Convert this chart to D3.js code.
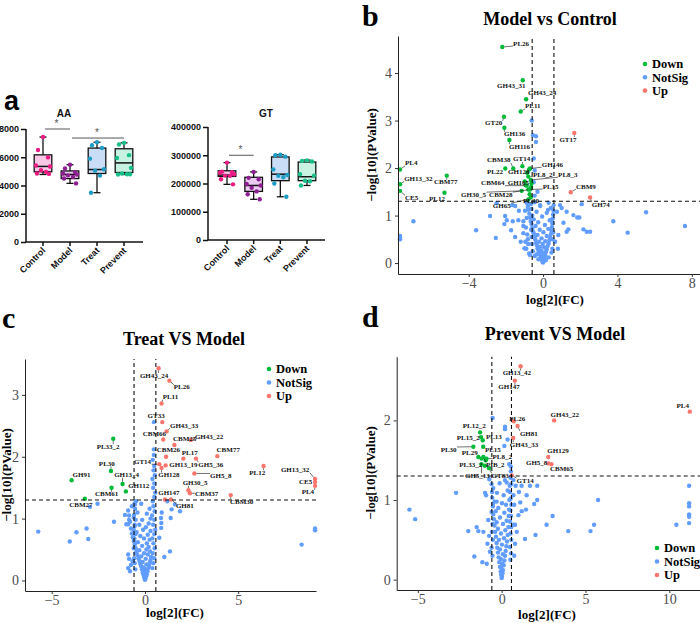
<!DOCTYPE html>
<html><head><meta charset="utf-8">
<script src="https://cdn.jsdelivr.net/npm/d3@7/dist/d3.min.js"></script>
<style>body{margin:0;background:#fff}svg{display:block}</style>
</head><body>
<svg id="fig" width="700" height="623"></svg>
<script>
// ================= DATA =================
// Panel a
const groups = ["Control","Model","Treat","Prevent"];
const aaTicks = [0,2000,4000,6000,8000];
const gtTicks = [0,100000,200000,300000,400000];
// [min, q1, median, q3, max]
const aaBox = [[4780,4970,5350,6170,7430],[4150,4490,4780,5030,5470],[3490,4850,5130,6650,7060],[4780,4920,5600,6600,7020]];
const aaPoints = [[7430,6510,5990,5420,5350,5080,4960,4850,4820],[5470,5200,4950,4850,4780,4720,4600,4500,4150],[7060,6850,6650,5900,5150,5050,4700,3490],[7020,6900,6150,5950,5250,4850,4800,4780,4800]];
const gtBox = [[197000,225000,230000,245000,274000],[144000,172000,193000,222000,241000],[153000,210000,233000,294000,302000],[193000,210000,224000,276000,283000]];
const gtPoints = [[274000,242000,240000,238000,233000,228000,227000,215000,197000],[241000,220000,215000,198000,193000,185000,172000,162000,144000],[302000,300000,295000,250000,230000,227000,222000,200000,153000],[282000,280000,278000,233000,228000,210000,208000,193000]];
const aaSig = [["Control","Model",8000],["Model","Prevent",7360]];
const gtSig = [["Control","Model",300000]];

// Volcano thresholds
const fcThreshold = 0.585, pThreshold = 1.301;
const legendKeys = ["Down","NotSig","Up"];

// Panel b: Model vs Control
const bXTicks = [-4,0,4,8], bYTicks = [0,1,2,3,4];
const bDown = [["PL26",-2.19,4.55],["GH43_31",-1.09,3.85],["GH43_24",-0.91,3.45],["PL11",-1.2,3.19],["GT20",-2.1,3.08],["GH136",-2.08,2.85],["GH116",-1.81,2.59],["CBM38",-1.6,1.99],["GT14",-1.11,2.04],["PL22",-2.03,1.99],["GH128",-0.75,1.97],["CBM64",-0.88,1.63],["GH165",-0.93,1.64],["GH30_5",-1.15,1.52],["CBM28",-0.7,1.55],["GH65",-0.79,1.34],["PL4",-7.69,1.97],["GH13_32",-7.69,1.66],["CE5",-7.69,1.52],["CBM77",-5.18,1.84],["PL12",-5.3,1.48],["PL8_3",-0.66,1.75],["PL8_2",-0.79,1.82],["GH146",-0.7,1.99],["PL15",-0.79,1.55],["PL30",-0.66,1.38],[null,-0.62,1.68],[null,-0.72,1.45],[null,-0.98,1.72],[null,-0.85,1.9],[null,-0.64,1.6]];
const bUp = [["GT17",1.68,2.74],["CBM9",1.49,1.49],["GH74",2.53,1.38]];
const bNot = [[0.0,0.01],[-0.03,0.03],[0.04,0.05],[-0.07,0.07],[0.02,0.09],[-0.1,0.11],[0.08,0.12],[-0.04,0.14],[-0.14,0.16],[0.12,0.17],[-0.18,0.19],[0.03,0.21],[-0.22,0.23],[0.16,0.24],[-0.09,0.26],[-0.26,0.28],[0.2,0.29],[-0.3,0.31],[0.06,0.33],[-0.17,0.34],[0.25,0.36],[-0.34,0.38],[-0.02,0.4],[0.3,0.41],[-0.38,0.43],[-0.22,0.45],[0.12,0.46],[0.34,0.48],[-0.42,0.5],[-0.08,0.52],[0.38,0.54],[-0.46,0.56],[0.2,0.57],[-0.3,0.59],[0.42,0.61],[-0.5,0.63],[0.02,0.65],[-0.55,0.67],[0.45,0.68],[-0.18,0.7],[0.28,0.72],[-0.58,0.74],[0.48,0.76],[-0.4,0.78],[0.1,0.8],[-0.62,0.82],[0.5,0.84],[-0.26,0.86],[-0.66,0.88],[0.36,0.9],[-0.5,0.92],[0.52,0.94],[-0.7,0.96],[-0.05,0.98],[-0.58,1.0],[0.54,1.02],[-0.74,1.04],[0.2,1.06],[-0.35,1.08],[0.56,1.1],[-0.78,1.12],[-0.62,1.14],[0.42,1.16],[-0.82,1.18],[-0.15,1.2],[0.57,1.22],[-0.66,1.24],[-0.86,1.26],[0.3,1.27],[-0.45,1.28],[-0.6,0.4],[-0.62,0.55],[-0.64,0.7],[-0.55,0.25],[-0.45,0.15],[0.5,0.3],[0.45,0.22],[0.52,0.5],[0.55,0.65],[-0.35,0.18],[0.3,0.12],[-0.25,0.08],[0.15,0.06],[-0.9,0.3],[-0.95,0.45],[-0.85,0.6],[-0.92,0.75],[-0.88,0.95],[-0.97,1.1],[-0.8,0.4],[-0.75,0.2],[-0.82,0.5],[-0.61,3.0],[-0.54,2.69],[-0.38,2.67],[-0.38,2.55],[-0.5,2.2],[-0.45,1.95],[-0.5,1.7],[-0.3,1.5],[-0.45,1.42],[-0.16,1.22],[0.27,1.12],[0.47,0.9],[0.91,1.22],[1.0,1.16],[0.75,1.08],[1.27,1.08],[1.63,1.01],[1.84,0.96],[1.95,0.96],[2.08,1.24],[2.17,0.71],[2.35,0.66],[2.53,0.66],[1.36,0.71],[1.27,0.66],[0.82,0.59],[3.78,0.88],[4.55,0.64],[5.54,1.07],[7.63,0.78],[-0.97,0.31],[-1.06,0.63],[-2.85,0.99],[-2.04,0.99],[-1.95,0.9],[-1.63,0.88],[-1.33,0.9],[-1.06,0.88],[-2.08,0.82],[-1.72,0.69],[-1.06,0.78],[-1.5,0.55],[-1.0,0.31],[-0.7,0.17],[-1.65,1.22],[-1.5,1.2],[-2.49,1.26],[-6.97,0.88],[-3.6,0.69],[-2.54,0.53],[-7.69,0.57],[-7.69,0.53],[-7.69,0.5],[0.8,0.3],[0.65,0.45],[1.1,0.85],[-1.2,0.45],[-1.3,1.1]];
const bNotNamed = [];

// Panel c: Treat VS Model
const cXTicks = [-5,0,5], cYTicks = [0,1,2,3];
const cUp = [["GH43_24",0.73,3.43],["PL26",1.31,3.23],["PL11",0.89,2.86],["GT33",0.93,2.56],["GH43_33",1.16,2.41],["CBM66",0.98,2.28],["CBM25",1.58,2.19],["GH43_22",2.46,2.27],["CBM77",3.88,2.01],["PL17",2.06,1.97],["GH13_19",1.11,1.86],["GH5_36",2.74,1.97],["GT14",0.77,1.88],["GH128",0.89,1.82],["GH5_8",2.65,1.73],["PL12",6.36,1.85],["GH13_32",9.12,1.64],["CE5",9.12,1.59],["PL4",9.12,1.53],["GH30_5",2.33,1.46],["CBM37",2.41,1.41],["CBM30",4.6,1.38],["GH147",1.07,1.31],["GH81",1.39,1.31],[null,1.13,2.0]];
const cDown = [["PL33_2",-1.7,2.29],["PL30",-1.82,1.77],["GH91",-3.93,1.62],["GH13_4",-1.2,1.56],["GH112",-1.02,1.44],["CBM61",-1.79,1.5],["CBM27",-3.22,1.32]];
const cNot = [[0,0.01],[0.03,0.03],[-0.04,0.05],[0.06,0.07],[-0.08,0.09],[0.1,0.1],[-0.02,0.12],[-0.12,0.13],[0.14,0.15],[0.02,0.17],[-0.16,0.18],[0.18,0.2],[-0.06,0.21],[-0.2,0.23],[0.22,0.24],[0.08,0.26],[-0.25,0.27],[0.26,0.29],[-0.12,0.3],[-0.3,0.32],[0.3,0.33],[0.04,0.35],[-0.35,0.36],[0.33,0.38],[-0.2,0.39],[-0.4,0.41],[0.15,0.42],[-0.05,0.44],[-0.45,0.46],[0.28,0.47],[-0.3,0.49],[0.08,0.5],[-0.5,0.52],[0.2,0.54],[-0.15,0.56],[-0.55,0.58],[0.1,0.6],[-0.38,0.62],[-0.6,0.64],[0.25,0.66],[-0.05,0.68],[-0.65,0.7],[-0.25,0.72],[0.15,0.74],[-0.7,0.76],[-0.45,0.78],[0.3,0.8],[-0.1,0.82],[-0.75,0.84],[0.05,0.86],[-0.55,0.88],[-0.3,0.9],[0.2,0.92],[-0.8,0.95],[-0.15,0.98],[0.3,1.0],[-0.6,1.02],[-0.85,1.05],[0.1,1.08],[-0.4,1.1],[-0.9,1.13],[0.25,1.16],[-0.7,1.2],[-0.2,1.24],[-0.52,0.18],[-0.55,0.28],[-0.58,0.36],[-0.5,0.44],[-0.6,0.52],[-0.53,0.6],[-0.57,0.68],[-0.5,0.75],[-0.6,0.82],[-0.55,0.9],[-0.5,0.98],[-0.58,1.06],[-0.53,1.16],[-0.56,1.24],[-0.48,1.28],[0.4,0.2],[0.45,0.28],[0.5,0.36],[0.42,0.44],[0.52,0.52],[0.46,0.6],[0.4,0.68],[0.5,0.75],[0.55,0.82],[0.44,0.9],[0.5,0.98],[0.38,1.05],[0.52,1.12],[0.46,1.2],[0.42,1.28],[0.5,1.35],[0.55,1.42],[0.44,1.5],[0.5,1.57],[0.4,1.64],[0.53,1.7],[0.46,1.78],[0.5,1.85],[0.42,1.95],[0.48,2.03],[0.48,2.56],[-5.72,0.79],[-4.03,0.63],[-3.67,0.78],[-3.13,0.84],[-3.04,0.67],[-2.54,1.24],[-2.95,1.19],[-1.66,0.95],[-1.07,1.06],[-1.0,0.91],[-0.9,0.91],[-0.85,0.98],[-0.9,0.2],[-0.66,0.31],[-0.54,1.23],[-0.85,0.35],[-0.75,0.25],[-0.8,0.15],[-0.9,0.42],[0.86,1.01],[0.88,0.93],[0.87,0.85],[0.9,1.1],[1.04,0.38],[1.34,0.47],[1.38,1.01],[1.88,1.12],[0.77,0.69],[1.2,1.28],[1.61,1.23],[1.43,1.15],[9.12,0.81],[9.12,0.84],[8.4,0.58]];
const cNotNamed = [["CBM26",0.48,2.12]];

// Panel d: Prevent VS Model
const dXTicks = [-5,0,5,10], dYTicks = [0,1,2];
const dUp = [["GH13_42",1.13,2.68],["GH147",0.79,2.5],["PL26",0.72,1.99],["GH81",0.95,1.93],["GH43_33",0.69,1.78],["GH43_22",3.13,2.0],["PL4",11.22,2.11],["GH129",2.78,1.54],["GH5_8",2.79,1.46],["CBM65",2.97,1.45],["GT14",0.6,1.31]];
const dDown = [["PL12_2",-1.29,1.85],["PL15_2",-1.23,1.79],["PL13",-1.13,1.75],["PL30",-1.69,1.67],["PL15",-1.1,1.67],["PL29",-1.39,1.54],["PL33_2",-1.0,1.43],["PL8_2",-0.9,1.52],["PIB_2",-1.09,1.54],["GH5_13",-1.2,1.45],["GT83",-0.75,1.4],[null,-0.95,1.5],[null,-1.2,1.52]];
const dNot = [[0,0.02],[0.02,0.04],[-0.03,0.06],[0.05,0.08],[-0.06,0.1],[0.08,0.12],[-0.01,0.14],[-0.1,0.16],[0.12,0.18],[0.03,0.2],[-0.14,0.22],[0.16,0.24],[-0.05,0.26],[-0.18,0.28],[0.2,0.3],[0.07,0.32],[-0.22,0.34],[0.24,0.36],[-0.1,0.38],[-0.26,0.4],[0.28,0.42],[0.02,0.44],[-0.3,0.46],[0.32,0.48],[-0.16,0.5],[0.14,0.52],[-0.34,0.54],[0.36,0.56],[-0.04,0.58],[-0.38,0.6],[0.22,0.62],[-0.22,0.64],[0.4,0.66],[-0.42,0.68],[0.08,0.7],[-0.3,0.72],[0.3,0.74],[-0.46,0.76],[-0.1,0.78],[0.42,0.8],[-0.5,0.82],[0.16,0.84],[-0.35,0.86],[0.44,0.88],[-0.2,0.9],[-0.52,0.92],[0.26,0.94],[0.02,0.96],[-0.42,0.98],[0.46,1.0],[-0.56,1.03],[0.12,1.06],[-0.28,1.09],[0.36,1.12],[-0.5,1.15],[0.48,1.18],[-0.12,1.21],[0.2,1.25],[0.52,0.25],[0.56,0.33],[0.5,0.41],[0.58,0.5],[0.53,0.58],[0.57,0.66],[0.5,0.73],[0.56,0.8],[0.52,0.87],[0.58,0.94],[0.54,1.02],[0.5,1.1],[0.57,1.2],[0.53,1.28],[0.55,1.36],[0.45,1.45],[0.55,1.42],[-0.55,0.3],[-0.6,0.4],[-0.52,0.5],[-0.58,0.6],[-0.55,0.7],[-0.6,0.85],[-0.52,0.95],[-0.57,1.1],[-0.6,1.2],[-5.5,0.88],[-5.16,0.76],[-2.72,1.09],[-1.99,0.61],[-1.49,0.66],[-1.63,0.29],[-1.15,0.22],[-0.89,0.2],[-1.09,0.6],[-0.93,1.06],[-0.99,1.09],[-0.74,1.26],[0.3,1.22],[0.83,1.18],[1.19,1.18],[1.69,1.18],[2.12,1.18],[1.03,1.1],[1.49,1.06],[0.7,1.06],[0.75,0.94],[1.11,0.97],[1.94,0.95],[2.12,1.0],[1.45,0.88],[1.2,0.86],[1.0,0.81],[0.7,0.69],[0.8,0.69],[1.39,0.51],[2.02,0.56],[2.68,0.69],[3.04,0.8],[3.97,0.61],[5.3,0.61],[5.51,0.69],[5.75,1.0],[10.42,0.69],[11.18,1.18],[11.18,0.96],[11.18,0.92],[11.18,0.82],[11.18,0.79],[11.18,0.71],[-1.39,0.61],[-0.3,0.98],[-0.54,2.03],[0.2,1.92],[0.2,1.89],[0.16,1.68],[0.35,1.76],[0.7,1.25],[-0.8,0.75],[-0.85,0.45],[-0.75,0.55],[-0.7,0.35],[0.8,0.45],[0.75,0.3],[0.9,0.6]];
const dNotNamed = [];

// ================= LAYOUT (label placement, data units) =================
const bLabelAt = {PL26:[-1.61,4.63],GH43_31:[-2.47,3.73],GH43_24:[-0.81,3.58],PL11:[-0.97,3.31],GT20:[-3.12,2.95],GH136:[-2.1,2.72],GH116:[-1.83,2.46],CBM38:[-3.01,2.17],GT14:[-1.61,2.19],PL22:[-3.01,1.92],GH128:[-1.88,1.92],CBM64:[-3.33,1.69],GH165:[-1.9,1.69],GH30_5:[-4.41,1.45],CBM28:[-2.9,1.45],GH65:[-2.7,1.22],PL4:[-7.42,2.11],GH13_32:[-7.47,1.78],CE5:[-7.42,1.38],CBM77:[-5.86,1.71],PL12:[-6.13,1.36],PL8_3:[0.81,1.87],PL8_2:[-0.54,1.87],GH146:[-0.07,2.08],PL15:[-0.02,1.62],PL30:[-1.08,1.31],GT17:[0.88,2.61],CBM9:[1.77,1.62],GH74:[2.62,1.24]};
const cLabelAt = {GH43_24:[-0.27,3.32],PL26:[1.55,3.13],PL11:[0.95,2.97],GT33:[0.14,2.67],GH43_33:[1.34,2.51],CBM66:[-0.12,2.37],CBM25:[1.5,2.29],GH43_22:[2.68,2.33],CBM77:[3.84,2.11],PL17:[1.97,2.07],GH13_19:[1.3,1.88],GH5_36:[2.86,1.88],GT14:[-0.59,1.92],GH128:[0.71,1.71],GH5_8:[3.49,1.7],PL12:[5.59,1.75],GH13_32:[7.29,1.79],CE5:[8.26,1.6],PL4:[8.4,1.43],GH30_5:[2.02,1.58],CBM37:[2.68,1.4],CBM30:[4.56,1.28],GH147:[0.71,1.42],GH81:[1.66,1.21],CBM26:[0.63,2.11],PL33_2:[-2.59,2.17],PL30:[-2.47,1.89],GH91:[-3.88,1.72],GH13_4:[-1.65,1.71],GH112:[-0.9,1.53],CBM61:[-2.68,1.4],CBM27:[-4.06,1.23]};
const dLabelAt = {GH13_42:[0.06,2.6],GH147:[-0.2,2.42],PL26:[0.45,2.02],GH81:[1.09,1.84],GH43_33:[0.49,1.7],GH43_22:[2.92,2.07],PL4:[10.43,2.19],GH129:[2.72,1.62],GH5_8:[1.45,1.47],CBM65:[2.88,1.39],GT14:[0.89,1.25],PL12_2:[-2.32,1.93],PL15_2:[-2.68,1.79],PL13:[-0.94,1.8],PL30:[-3.64,1.64],PL15:[-1.0,1.64],PL29:[-2.38,1.6],PL33_2:[-2.53,1.44],PL8_2:[-0.54,1.55],PIB_2:[-0.94,1.45],GH5_13:[-2.19,1.31],GT83:[-0.6,1.31]};

// ================= DRAW =================
const svg = d3.select("#fig");
svg.append("rect").attr("width",700).attr("height",623).attr("fill","#fff");
const SERIF = "'Liberation Serif','Times New Roman',Times,serif";
const SANS = "'Liberation Sans',Arial,Helvetica,sans-serif";
const COL = {Down:"#00BA38", NotSig:"#619CFF", Up:"#F8766D"};
const boxFill = ["#f9c8e7","#eccbf2","#c9ddf6","#c8f3e2"];
const dotCol = ["#ec1c84","#8e1f92","#1d9cc6","#18bf8b"];
const jit = [0,-5,5,-7,7,-2,3,-6,6];

function boxPanel(c){
  const g = svg.append("g").attr("font-family",SANS).attr("font-weight","bold");
  const x = d3.scalePoint().domain(groups).range(c.xr);
  const y = d3.scaleLinear().domain([c.ticks[0], c.ticks[c.ticks.length-1]]).range(c.yr);
  const hw = 8.8, cap = 3.5;
  c.box.forEach((b,i)=>{
    const cx = x(groups[i]);
    g.append("line").attr("x1",cx).attr("x2",cx).attr("y1",y(b[0])).attr("y2",y(b[4])).attr("stroke","#111").attr("stroke-width",1.3);
    [b[0],b[4]].forEach(v=>g.append("line").attr("x1",cx-cap).attr("x2",cx+cap).attr("y1",y(v)).attr("y2",y(v)).attr("stroke","#111").attr("stroke-width",1.3));
    g.append("rect").attr("x",cx-hw).attr("width",2*hw).attr("y",y(b[3])).attr("height",y(b[1])-y(b[3]))
      .attr("fill",boxFill[i]).attr("stroke","#111").attr("stroke-width",1.3);
    g.append("line").attr("x1",cx-hw).attr("x2",cx+hw).attr("y1",y(b[2])).attr("y2",y(b[2])).attr("stroke","#111").attr("stroke-width",1.5);
  });
  c.pts.forEach((arr,i)=>{
    const cx = x(groups[i]);
    g.selectAll(null).data(arr).join("circle").attr("cx",(d,j)=>cx+jit[j%jit.length]).attr("cy",d=>y(d)).attr("r",2.2).attr("fill",dotCol[i]);
  });
  const x0 = c.axX, yb = c.yr[0];
  g.append("line").attr("x1",x0).attr("x2",x0).attr("y1",yb).attr("y2",c.yr[1]).attr("stroke","#111").attr("stroke-width",1.5);
  g.append("line").attr("x1",x0).attr("x2",c.axRight).attr("y1",yb).attr("y2",yb).attr("stroke","#111").attr("stroke-width",1.5);
  const ya = g.append("g").attr("transform",`translate(${x0},0)`)
    .call(d3.axisLeft(y).tickValues(c.ticks).tickSize(5).tickPadding(2).tickSizeOuter(0).tickFormat(d3.format("d")));
  ya.select(".domain").remove();
  ya.selectAll("line").attr("stroke","#111").attr("stroke-width",1.5);
  ya.selectAll("text").attr("font-family",SANS).attr("font-weight","bold").attr("font-size",9).attr("fill","#111");
  groups.forEach(gn=>{
    const cx = x(gn);
    g.append("line").attr("x1",cx).attr("x2",cx).attr("y1",yb).attr("y2",yb+4).attr("stroke","#111").attr("stroke-width",1.5);
    g.append("text").attr("transform",`translate(${cx+3},${yb+9}) rotate(-45)`).attr("text-anchor","end")
      .attr("font-size",9).attr("fill","#111").text(gn);
  });
  c.sig.forEach(([a,b,v])=>{
    g.append("line").attr("x1",x(a)+2).attr("x2",x(b)).attr("y1",y(v)).attr("y2",y(v)).attr("stroke","#555").attr("stroke-width",1);
    g.append("text").attr("x",(x(a)+x(b))/2).attr("y",y(v)-2).attr("text-anchor","middle").attr("font-size",10).attr("font-weight","normal").attr("fill","#555").text("*");
  });
  g.append("text").attr("x",c.titleX).attr("y",c.titleY).attr("text-anchor","middle").attr("font-size",10).attr("fill","#111").text(c.title);
}

svg.append("text").attr("x",4).attr("y",110).attr("font-family",SANS).attr("font-weight","bold").attr("font-size",27).text("a");
boxPanel({title:"AA", titleX:64, titleY:117, ticks:aaTicks, box:aaBox, pts:aaPoints, sig:aaSig, xr:[43,124], yr:[242,129], axX:26, axRight:143});
boxPanel({title:"GT", titleX:266, titleY:117, ticks:gtTicks, box:gtBox, pts:gtPoints, sig:gtSig, xr:[227,307], yr:[240,127], axX:208, axRight:325});

function volcano(c){
  const g = svg.append("g");
  const x = d3.scaleLinear().domain(c.xDomain).range(c.xRange);
  const y = d3.scaleLinear().domain(c.yDomain).range(c.yRange);
  const [x0,x1] = c.xRange, [yB,yT] = c.yRange;
  const pts = g.append("g");
  pts.selectAll(null).data(c.not.concat(c.notNamed.map(d=>[d[1],d[2]]))).join("circle")
    .attr("cx",d=>x(d[0])).attr("cy",d=>y(d[1])).attr("r",2.2).attr("fill",COL.NotSig);
  pts.selectAll(null).data(c.down).join("circle").attr("cx",d=>x(d[1])).attr("cy",d=>y(d[2])).attr("r",2.2).attr("fill",COL.Down);
  pts.selectAll(null).data(c.up).join("circle").attr("cx",d=>x(d[1])).attr("cy",d=>y(d[2])).attr("r",2.2).attr("fill",COL.Up);
  g.selectAll(null).data([-fcThreshold, fcThreshold]).join("line")
    .attr("x1",d=>x(d)).attr("x2",d=>x(d)).attr("y1",yB).attr("y2",yT)
    .attr("stroke","#111").attr("stroke-width",1.1).attr("stroke-dasharray","4,3");
  g.append("line").attr("x1",x0).attr("x2",x1).attr("y1",y(pThreshold)).attr("y2",y(pThreshold))
    .attr("stroke","#111").attr("stroke-width",1.1).attr("stroke-dasharray","4,3");
  const seg = g.append("g"), lab = g.append("g").attr("font-family",SERIF).attr("font-size",7).attr("font-weight","bold");
  c.down.concat(c.up, c.notNamed).forEach(([name,vx,vy])=>{
    if(!name || !c.labelAt[name]) return;
    const p = c.labelAt[name];
    const t = lab.append("text").attr("x",x(p[0])).attr("y",y(p[1])).attr("dy","0.35em").attr("fill","#111").text(name);
    const bb = t.node().getBBox();
    const px = x(vx), py = y(vy);
    const qx = Math.max(bb.x, Math.min(px, bb.x+bb.width));
    const qy = Math.max(bb.y+1.5, Math.min(py, bb.y+bb.height-1.5));
    const dist = Math.hypot(px-qx, py-qy);
    if(dist > 4){
      const k = 2.2/dist;
      seg.append("line").attr("x1",px+(qx-px)*k).attr("y1",py+(qy-py)*k).attr("x2",qx).attr("y2",qy)
        .attr("stroke","#111").attr("stroke-width",0.6);
    }
  });
  const fmt = d3.format("d");
  const xa = g.append("g").attr("transform",`translate(0,${yB})`)
    .call(d3.axisBottom(x).tickValues(c.xTicks).tickSize(3).tickPadding(1).tickSizeOuter(0).tickFormat(fmt));
  const ya = g.append("g").attr("transform",`translate(${x0},0)`)
    .call(d3.axisLeft(y).tickValues(c.yTicks).tickSize(3).tickPadding(3).tickSizeOuter(0).tickFormat(fmt));
  [xa,ya].forEach(a=>{
    a.select(".domain").attr("stroke","#222").attr("stroke-width",1);
    a.selectAll(".tick line").attr("stroke","#333");
    a.selectAll(".tick text").attr("font-family",SERIF).attr("font-size",14).attr("fill","#4d4d4d");
  });
  g.append("text").attr("x",c.xlab[0]).attr("y",c.xlab[1]).attr("text-anchor","middle")
    .attr("font-family",SERIF).attr("font-weight","bold").attr("font-size",13).text("log[2](FC)");
  g.append("text").attr("transform",`translate(${c.ylab[0]},${c.ylab[1]}) rotate(-90)`).attr("text-anchor","middle").attr("dy","0.35em")
    .attr("font-family",SERIF).attr("font-weight","bold").attr("font-size",13).text("\u2212log[10](PValue)");
  g.append("text").attr("x",c.tx).attr("y",c.ty).attr("text-anchor","middle")
    .attr("font-family",SERIF).attr("font-weight","bold").attr("font-size",18).text(c.title);
  g.append("text").attr("x",c.letterAt[0]).attr("y",c.letterAt[1])
    .attr("font-family",SERIF).attr("font-weight","bold").attr("font-size",30).text(c.letter);
  const lg = g.append("g").attr("transform",`translate(${c.legend[0]},${c.legend[1]})`);
  legendKeys.forEach((k,i)=>{
    lg.append("circle").attr("cx",0).attr("cy",i*c.legend[2]).attr("r",2.3).attr("fill",COL[k]);
    lg.append("text").attr("x",7).attr("y",i*c.legend[2]).attr("dy","0.35em")
      .attr("font-family",SERIF).attr("font-weight","bold").attr("font-size",12.5).text(k);
  });
}

volcano({letter:"b", letterAt:[362,26], title:"Model vs Control", tx:550, ty:25,
  xDomain:[-7.8,8.44], xRange:[398,700], yDomain:[-0.23,4.78], yRange:[274,36],
  xTicks:bXTicks, yTicks:bYTicks, not:bNot, notNamed:bNotNamed, down:bDown, up:bUp, labelAt:bLabelAt,
  legend:[645,64,13.3], ylab:[371,155], xlab:[555,304]});
volcano({letter:"c", letterAt:[2,328], title:"Treat VS Model", tx:184, ty:345,
  xDomain:[-6.43,9.17], xRange:[25,316], yDomain:[-0.17,3.58], yRange:[591,359],
  xTicks:cXTicks, yTicks:cYTicks, not:cNot, notNamed:cNotNamed, down:cDown, up:cUp, labelAt:cLabelAt,
  legend:[269,369,13.5], ylab:[6,475], xlab:[175,617]});
volcano({letter:"d", letterAt:[362,327], title:"Prevent VS Model", tx:555, ty:340,
  xDomain:[-6.26,11.83], xRange:[396.7,700], yDomain:[-0.13,2.8], yRange:[590,356.7],
  xTicks:dXTicks, yTicks:dYTicks, not:dNot, notNamed:dNotNamed, down:dDown, up:dUp, labelAt:dLabelAt,
  legend:[657,548,13.5], ylab:[370,473], xlab:[547,619]});
</script>
</body></html>
